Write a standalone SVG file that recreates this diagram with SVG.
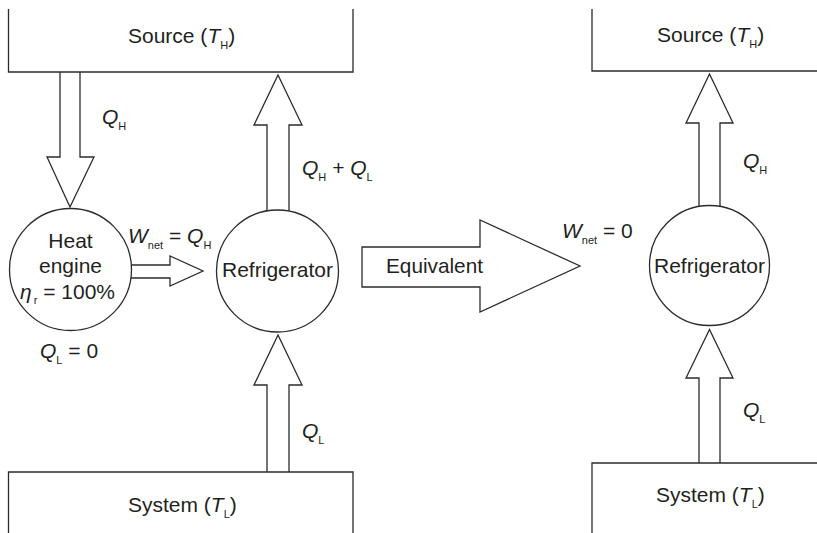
<svg xmlns="http://www.w3.org/2000/svg" width="817" height="533" viewBox="0 0 817 533">
<style>
.ln{fill:none;stroke:#2b2b2b;stroke-width:1.3}
.ar{fill:#fff;stroke:#2b2b2b;stroke-width:1.3;stroke-linejoin:miter}
.nd{fill:#fff;stroke:#2b2b2b;stroke-width:1.3}
text{font-family:"Liberation Sans",Arial,Helvetica,sans-serif;font-size:21px;fill:#231f20}
.c{text-anchor:middle}
.i{font-style:italic}
.s{font-size:11px}
</style>
<rect width="817" height="533" fill="#fff"/>
<g id="connectors">
<path class="ar" d="M60,72 V157 H47 L70,207 L94,157 H80 V72"/>
<path class="ar" d="M267,220 V125 H254 L278,75 L302,125 H289 V220"/>
<path class="ar" d="M267,472 V385 H254 L278,335 L302,385 H289 V472"/>
<path class="ar" d="M125,265 H170 V256 L203,271 L170,286 V278 H125"/>
<path class="ar" d="M699,215 V123 H686 L709.5,74 L733,123 H720 V215"/>
<path class="ar" d="M699,463 V378 H686 L709.5,329.5 L733,378 H720 V463"/>
</g>
<g id="source-left">
<path class="ln" d="M8.5,9 V72 H353 V9"/>
<text x="128" y="43">Source (<tspan class="i">T</tspan><tspan class="s" dy="6">H</tspan><tspan dy="-6">)</tspan></text>
</g>
<g id="system-left">
<path class="ln" d="M8.5,533 V472 H353 V533"/>
<text x="128" y="512">System (<tspan class="i">T</tspan><tspan class="s" dy="6">L</tspan><tspan dy="-6">)</tspan></text>
</g>
<g id="heat-engine">
<circle class="nd" cx="70.5" cy="269.5" r="61"/>
<text class="c" x="70.5" y="248">Heat</text>
<text class="c" x="70.5" y="273">engine</text>
<text x="20" y="299"><tspan class="i">η</tspan><tspan class="s" dx="2" dy="5">r</tspan><tspan dy="-5"> = 100%</tspan></text>
</g>
<g id="refrigerator-left">
<circle class="nd" cx="277.5" cy="271" r="61"/>
<text class="c" x="277.5" y="277" textLength="111" lengthAdjust="spacingAndGlyphs">Refrigerator</text>
</g>
<g id="equivalent">
<path class="ar" d="M362,247 H480 V220 L580,266 L480,312 V287 H362 Z"/>
<text x="386" y="273" textLength="97" lengthAdjust="spacingAndGlyphs">Equivalent</text>
</g>
<g id="source-right">
<path class="ln" d="M592,9 V71 H817"/>
<text x="657" y="42">Source (<tspan class="i">T</tspan><tspan class="s" dy="6">H</tspan><tspan dy="-6">)</tspan></text>
</g>
<g id="system-right">
<path class="ln" d="M592,533 V463 H817"/>
<text x="656" y="502">System (<tspan class="i">T</tspan><tspan class="s" dy="6">L</tspan><tspan dy="-6">)</tspan></text>
</g>
<g id="refrigerator-right">
<circle class="nd" cx="709.5" cy="265.5" r="60"/>
<text class="c" x="709.5" y="273" textLength="111" lengthAdjust="spacingAndGlyphs">Refrigerator</text>
</g>
<g id="labels">
<text x="102" y="124"><tspan class="i">Q</tspan><tspan class="s" dy="6">H</tspan></text>
<text x="302" y="175"><tspan class="i">Q</tspan><tspan class="s" dy="6">H</tspan><tspan dy="-6"> + </tspan><tspan class="i">Q</tspan><tspan class="s" dy="6">L</tspan></text>
<text x="128" y="243"><tspan class="i">W</tspan><tspan class="s" dy="6">net</tspan><tspan dy="-6"> = </tspan><tspan class="i">Q</tspan><tspan class="s" dy="6">H</tspan></text>
<text x="40" y="358"><tspan class="i">Q</tspan><tspan class="s" dy="6">L</tspan><tspan dy="-6"> = 0</tspan></text>
<text x="302" y="438"><tspan class="i">Q</tspan><tspan class="s" dy="6">L</tspan></text>
<text x="562" y="238"><tspan class="i">W</tspan><tspan class="s" dy="6">net</tspan><tspan dy="-6"> = 0</tspan></text>
<text x="743" y="168"><tspan class="i">Q</tspan><tspan class="s" dy="6">H</tspan></text>
<text x="743" y="417"><tspan class="i">Q</tspan><tspan class="s" dy="6">L</tspan></text>
</g>
</svg>
